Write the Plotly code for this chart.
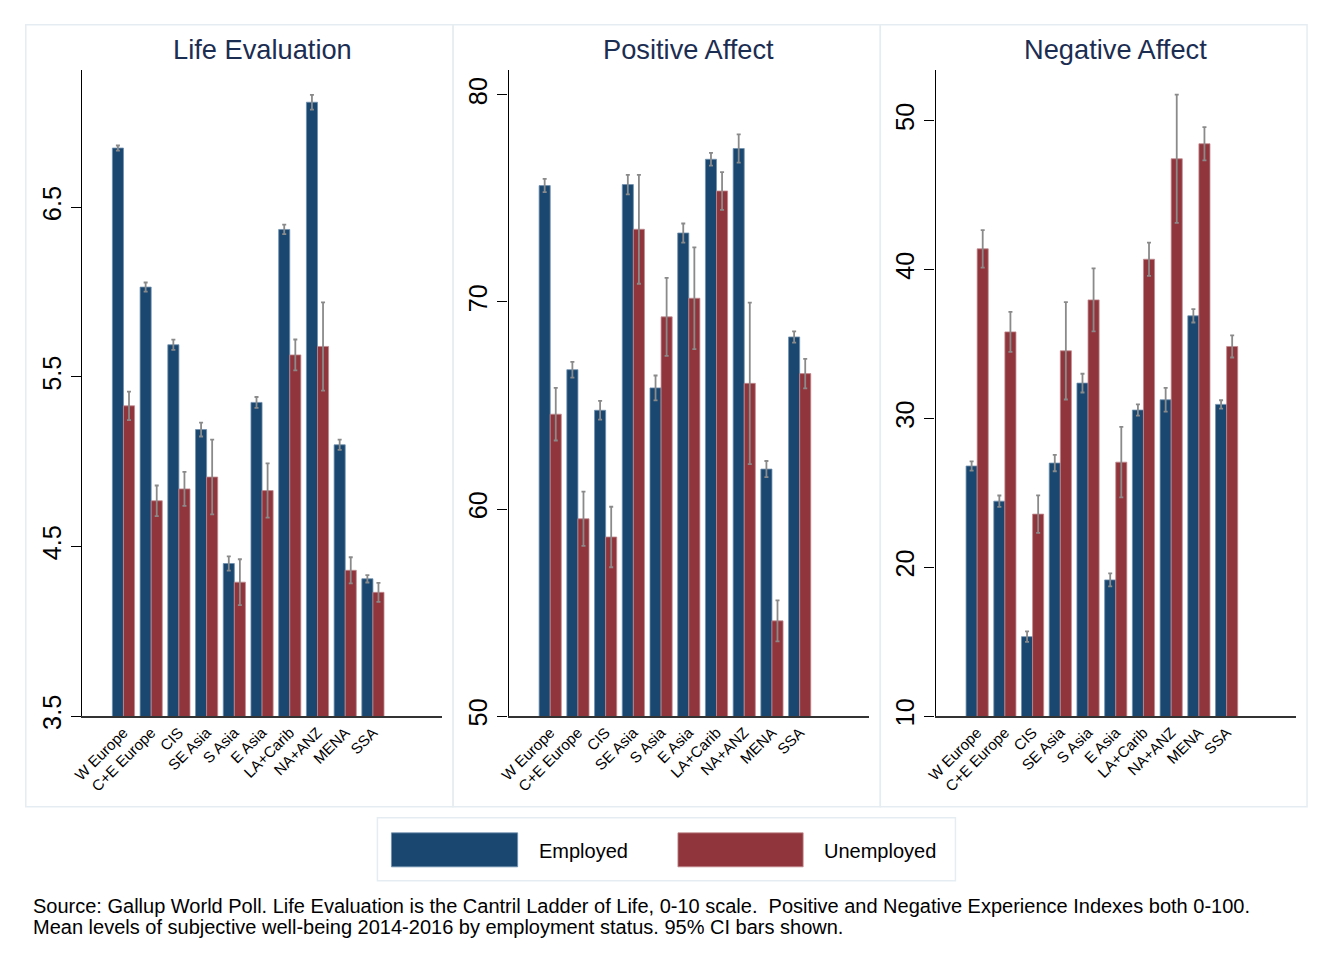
import plotly.graph_objects as go

# ---------------- data ----------------
regions = ["W Europe", "C+E Europe", "CIS", "SE Asia", "S Asia", "E Asia",
           "LA+Carib", "NA+ANZ", "MENA", "SSA"]

life_emp = [6.85, 6.03, 5.69, 5.19, 4.40, 5.35, 6.37, 7.12, 5.10, 4.31]
life_emp_ci = [0.015, 0.027, 0.03, 0.041, 0.042, 0.032, 0.028, 0.044, 0.03, 0.022]
life_unemp = [5.33, 4.77, 4.84, 4.91, 4.29, 4.83, 5.63, 5.68, 4.36, 4.23]
life_unemp_ci = [0.084, 0.09, 0.10, 0.22, 0.135, 0.16, 0.091, 0.26, 0.077, 0.056]

pos_emp = [75.62, 66.73, 64.77, 75.67, 65.85, 73.33, 76.89, 77.41, 61.93, 68.31]
pos_emp_ci = [0.32, 0.38, 0.45, 0.47, 0.6, 0.46, 0.31, 0.68, 0.39, 0.27]
pos_unemp = [64.58, 59.53, 58.65, 73.51, 69.28, 70.18, 75.36, 66.07, 54.6, 66.54]
pos_unemp_ci = [1.27, 1.31, 1.46, 2.63, 1.88, 2.46, 0.91, 3.9, 0.99, 0.71]

neg_emp = [26.8, 24.44, 15.34, 27.0, 32.37, 19.15, 30.56, 31.25, 36.89, 30.94]
neg_emp_ci = [0.31, 0.38, 0.35, 0.55, 0.63, 0.44, 0.38, 0.8, 0.45, 0.28]
neg_unemp = [41.39, 35.81, 23.57, 34.54, 37.96, 27.06, 40.69, 47.44, 48.45, 34.83]
neg_unemp_ci = [1.26, 1.34, 1.26, 3.27, 2.12, 2.37, 1.12, 4.31, 1.12, 0.74]

panel_titles = ["Life Evaluation", "Positive Affect", "Negative Affect"]
y_ranges = [[3.5, 7.31], [50, 81.2], [10, 53.4]]
y_ticks = [[3.5, 4.5, 5.5, 6.5], [50, 60, 70, 80], [10, 20, 30, 40, 50]]
series_names = ["Employed", "Unemployed"]
caption1 = ("Source: Gallup World Poll. Life Evaluation is the Cantril Ladder of Life, 0-10 scale.  "
            "Positive and Negative Experience Indexes both 0-100.")
caption2 = "Mean levels of subjective well-being 2014-2016 by employment status. 95% CI bars shown."

# ---------------- styling ----------------
PAGE_MARGIN = 8          # default body margin of the page
W, H = 1322 - 2 * PAGE_MARGIN, 959 - 2 * PAGE_MARGIN
FONT = "Liberation Sans, Arial, Helvetica, sans-serif"
C_EMP = "#1a476f"
C_UNEMP = "#90353b"
C_EMP_EDGE = "#6f8fae"
C_UNEMP_EDGE = "#c28a8f"
C_ERR = "#8a8a8a"
C_TITLE = "#1c2d52"
C_FRAME = "#e6edf2"

# empirical correction of the photographed page (offset/scale seen in earlier renders)
SX, OX = 0.9906, 10.3
SY, OY = 0.985, -0.6

def px(x):
    xi = (x - OX) / SX
    return (xi - PAGE_MARGIN) / W

def py(y):
    yi = (y - OY) / SY
    return 1 - (yi - PAGE_MARGIN) / H

FS = 1 / SX  # font compensation

plot_x = [(82, 441.7), (508.0, 867.7), (934.2, 1293.9)]
plot_y = (69.3, 715.3)
panel_x = [(26, 452.5), (452.5, 879), (879, 1305)]
panel_y = (24, 806)

data = [
    (life_emp, life_emp_ci, life_unemp, life_unemp_ci),
    (pos_emp, pos_emp_ci, pos_unemp, pos_unemp_ci),
    (neg_emp, neg_emp_ci, neg_unemp, neg_unemp_ci),
]

fig = go.Figure()

for i, (e, eci, u, uci) in enumerate(data):
    suffix = "" if i == 0 else str(i + 1)
    fig.add_trace(go.Bar(
        x=regions, y=e, name=series_names[0], xaxis="x" + suffix, yaxis="y" + suffix,
        marker=dict(color=C_EMP, line=dict(color=C_EMP_EDGE, width=0.8)),
        error_y=dict(type="data", array=eci, color=C_ERR, thickness=1.8, width=2),
        showlegend=False, offsetgroup="emp",
    ))
    fig.add_trace(go.Bar(
        x=regions, y=u, name=series_names[1], xaxis="x" + suffix, yaxis="y" + suffix,
        marker=dict(color=C_UNEMP, line=dict(color=C_UNEMP_EDGE, width=0.8)),
        error_y=dict(type="data", array=uci, color=C_ERR, thickness=1.8, width=2),
        showlegend=False, offsetgroup="unemp",
    ))

layout = dict(
    width=W, height=H, autosize=False,
    margin=dict(l=0, r=0, t=0, b=0, pad=0),
    paper_bgcolor="white", plot_bgcolor="white",
    barmode="group", bargap=0.2, bargroupgap=0.0,
    font=dict(family=FONT, color="black"),
    showlegend=False,
)

for i in range(3):
    suffix = "" if i == 0 else str(i + 1)
    layout["xaxis" + suffix] = dict(
        domain=[px(plot_x[i][0]), px(plot_x[i][1])],
        anchor="y" + suffix, range=[-1.5, 11.5],
        showline=True, linecolor="#333333", linewidth=1.5,
        ticks="", tickangle=-45, tickfont=dict(size=15 * FS, family=FONT, color="black"),
        showgrid=False, zeroline=False, fixedrange=True,
    )
    layout["yaxis" + suffix] = dict(
        domain=[py(plot_y[1]), py(plot_y[0])],
        anchor="x" + suffix, range=y_ranges[i],
        tickmode="array", tickvals=y_ticks[i],
        ticktext=[("%g" % v) for v in y_ticks[i]],
        ticks="outside", ticklen=10, tickwidth=1.3, tickcolor="black",
        showline=True, linecolor="black", linewidth=1.3,
        tickangle=-90, tickfont=dict(size=25 * FS, family=FONT, color="black"),
        showgrid=False, zeroline=False, fixedrange=True,
    )

fig.update_layout(**layout)

shapes = []
# panel boxes
for (x0, x1) in panel_x:
    shapes.append(dict(type="rect", xref="paper", yref="paper",
                       x0=px(x0), x1=px(x1), y0=py(panel_y[1]), y1=py(panel_y[0]),
                       line=dict(color=C_FRAME, width=1.5), layer="below"))
# outer frame (left edge and top edge only visible in the reference)
shapes.append(dict(type="line", xref="paper", yref="paper",
                   x0=px(5), x1=px(5), y0=0, y1=py(5),
                   line=dict(color="#eef2f5", width=1.5), layer="below"))
shapes.append(dict(type="line", xref="paper", yref="paper",
                   x0=px(5), x1=1, y0=py(5), y1=py(5),
                   line=dict(color="#eef2f5", width=1.5), layer="below"))
# legend box
shapes.append(dict(type="rect", xref="paper", yref="paper",
                   x0=px(377), x1=px(954), y0=py(880), y1=py(817),
                   line=dict(color=C_FRAME, width=1.5)))
# legend swatches
shapes.append(dict(type="rect", xref="paper", yref="paper",
                   x0=px(391), x1=px(517), y0=py(866), y1=py(832),
                   fillcolor=C_EMP, line=dict(color=C_EMP_EDGE, width=0.8)))
shapes.append(dict(type="rect", xref="paper", yref="paper",
                   x0=px(677), x1=px(802), y0=py(866), y1=py(832),
                   fillcolor=C_UNEMP, line=dict(color=C_UNEMP_EDGE, width=0.8)))

annotations = []
for i in range(3):
    cx = (plot_x[i][0] + plot_x[i][1]) / 2
    annotations.append(dict(text=panel_titles[i], xref="paper", yref="paper",
                            x=px(cx), y=py(49), xanchor="center", yanchor="middle",
                            showarrow=False, font=dict(size=27 * FS, family=FONT, color=C_TITLE)))
annotations.append(dict(text=series_names[0], xref="paper", yref="paper",
                        x=px(536), y=py(850), xanchor="left", yanchor="middle",
                        showarrow=False, font=dict(size=20, family=FONT, color="black")))
annotations.append(dict(text=series_names[1], xref="paper", yref="paper",
                        x=px(821), y=py(850), xanchor="left", yanchor="middle",
                        showarrow=False, font=dict(size=20, family=FONT, color="black")))
annotations.append(dict(text=caption1, xref="paper", yref="paper",
                        x=px(31), y=py(904.8), xanchor="left", yanchor="middle", height=22,
                        showarrow=False, font=dict(size=20, family=FONT, color="black")))
annotations.append(dict(text=caption2, xref="paper", yref="paper",
                        x=px(31), y=py(926.5), xanchor="left", yanchor="middle", height=22,
                        showarrow=False, font=dict(size=20, family=FONT, color="black")))

fig.update_layout(shapes=shapes, annotations=annotations)

fig.write_html("out.html", config={"displayModeBar": False})
